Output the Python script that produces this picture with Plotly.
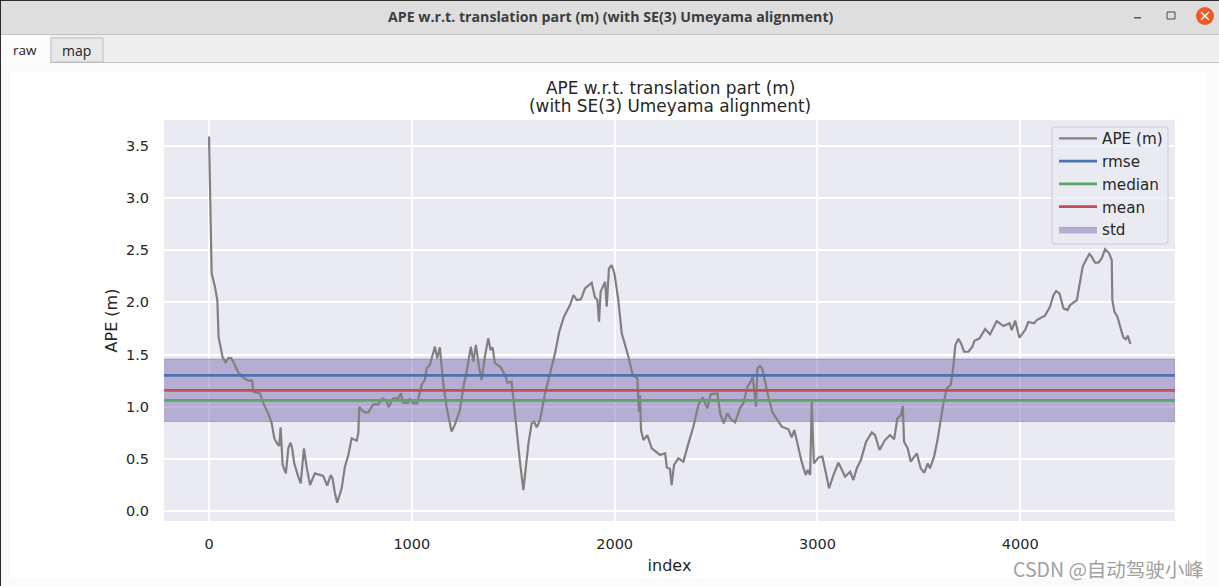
import plotly.graph_objects as go

# ---------------------------------------------------------------------
# Data
# ---------------------------------------------------------------------
ape_index = [
    0, 5, 8, 13, 29, 41, 47, 59, 67, 82, 95, 110, 128, 144, 169, 194, 213, 218, 251, 268,
    292, 309, 322, 333, 346, 353, 363, 379, 391, 402, 410, 420, 440, 452, 468, 481, 498, 522, 563, 583,
    600, 609, 621, 632, 654, 670, 687, 703, 728, 736, 741, 752, 769, 785, 810, 834, 856, 876, 885, 908,
    933, 946, 958, 982, 990, 1007, 1027, 1048, 1064, 1073, 1089, 1114, 1125, 1138, 1155, 1171, 1196, 1212, 1237, 1257,
    1266, 1278, 1291, 1303, 1316, 1331, 1344, 1360, 1377, 1388, 1398, 1410, 1435, 1460, 1471, 1492, 1501, 1517, 1534, 1550,
    1560, 1575, 1591, 1603, 1616, 1632, 1657, 1682, 1706, 1727, 1750, 1780, 1797, 1813, 1834, 1854, 1887, 1903, 1915, 1923,
    1931, 1953, 1961, 1972, 1985, 1999, 2018, 2035, 2068, 2089, 2112, 2120, 2125, 2130, 2142, 2161, 2183, 2224, 2249, 2257,
    2273, 2281, 2293, 2314, 2339, 2364, 2388, 2413, 2434, 2457, 2474, 2507, 2520, 2538, 2556, 2577, 2594, 2618, 2635, 2655,
    2671, 2681, 2689, 2697, 2704, 2717, 2727, 2742, 2758, 2778, 2799, 2824, 2857, 2873, 2886, 2906, 2922, 2942, 2952, 2964,
    2972, 2978, 2983, 3005, 3024, 3042, 3057, 3079, 3103, 3117, 3136, 3161, 3177, 3194, 3214, 3240, 3268, 3284, 3306, 3333,
    3358, 3378, 3394, 3412, 3421, 3427, 3445, 3460, 3490, 3509, 3527, 3544, 3555, 3575, 3592, 3605, 3621, 3638, 3657, 3670,
    3680, 3695, 3708, 3723, 3744, 3764, 3774, 3799, 3827, 3851, 3884, 3917, 3947, 3958, 3975, 3996, 4024, 4040, 4068, 4081,
    4122, 4147, 4164, 4177, 4193, 4213, 4233, 4246, 4279, 4295, 4308, 4324, 4341, 4352, 4369, 4385, 4402, 4418, 4438, 4451,
    4454, 4464, 4479, 4495, 4508, 4520, 4530, 4543,
]
ape_values = [
    3.59, 3.11, 2.534, 2.279, 2.151, 2.023, 1.672, 1.528, 1.473, 1.426, 1.467, 1.467, 1.40, 1.33, 1.278, 1.25, 1.25, 1.144, 1.128, 1.032,
    0.936, 0.84, 0.697, 0.655, 0.623, 0.802, 0.441, 0.361, 0.601, 0.655, 0.601, 0.457, 0.329, 0.265, 0.601, 0.425, 0.249, 0.361, 0.336, 0.243,
    0.345, 0.313, 0.17, 0.08, 0.217, 0.425, 0.537, 0.697, 0.674, 0.745, 1.0, 0.968, 0.946, 0.946, 1.023, 1.023, 1.08, 1.058, 0.994, 1.08,
    1.08, 1.128, 1.039, 1.039, 1.08, 1.032, 1.032, 1.208, 1.256, 1.368, 1.40, 1.576, 1.464, 1.569, 1.224, 1.0, 0.761, 0.825, 0.968, 1.224,
    1.288, 1.448, 1.576, 1.432, 1.592, 1.384, 1.256, 1.48, 1.656, 1.544, 1.569, 1.416, 1.384, 1.304, 1.23, 1.24, 1.064, 0.776, 0.457, 0.201,
    0.361, 0.648, 0.84, 0.856, 0.802, 0.872, 1.128, 1.32, 1.511, 1.719, 1.863, 1.975, 2.071, 2.023, 2.029, 2.135, 2.189, 2.048, 2.023, 1.815,
    2.103, 2.198, 1.959, 2.326, 2.358, 2.278, 2.023, 1.703, 1.479, 1.304, 1.272, 0.952, 1.11, 0.776, 0.68, 0.728, 0.6, 0.537, 0.553, 0.418,
    0.402, 0.249, 0.441, 0.505, 0.473, 0.648, 0.808, 1.016, 1.089, 0.984, 1.121, 1.128, 0.936, 0.84, 0.936, 0.872, 0.85, 0.984, 1.032, 1.192,
    1.24, 1.288, 1.16, 1.0, 1.368, 1.39, 1.368, 1.224, 1.096, 0.946, 0.888, 0.808, 0.783, 0.706, 0.776, 0.616, 0.473, 0.345, 0.393, 0.345,
    1.048, 0.68, 0.457, 0.514, 0.521, 0.361, 0.217, 0.345, 0.463, 0.409, 0.329, 0.377, 0.297, 0.409, 0.489, 0.664, 0.754, 0.728, 0.585, 0.68,
    0.728, 0.687, 0.888, 0.92, 1.006, 0.664, 0.6, 0.473, 0.553, 0.409, 0.367, 0.457, 0.409, 0.521, 0.68, 0.84, 1.032, 1.176, 1.208, 1.384,
    1.591, 1.652, 1.607, 1.527, 1.527, 1.575, 1.633, 1.655, 1.745, 1.693, 1.821, 1.773, 1.799, 1.735, 1.825, 1.662, 1.735, 1.812, 1.799, 1.831,
    1.873, 1.959, 2.071, 2.109, 2.087, 1.943, 1.927, 1.975, 2.023, 2.2, 2.343, 2.407, 2.464, 2.439, 2.381, 2.381, 2.423, 2.509, 2.471, 2.407,
    2.023, 1.911, 1.863, 1.752, 1.665, 1.646, 1.681, 1.601,
]
rmse = 1.30
median = 1.06
mean = 1.157
std_low = 0.858
std_high = 1.457

x_range = [-222, 4763]
y_range = [-0.096, 3.749]
x_ticks = [0, 1000, 2000, 3000, 4000]
y_ticks = [0.0, 0.5, 1.0, 1.5, 2.0, 2.5, 3.0, 3.5]

WIDTH, HEIGHT = 1219, 586
LEFT, RIGHT, TOP, BOTTOM = 164, 1175, 120, 521
PLOT_FONT = "DejaVu Sans"
UI_FONT = "Open Sans"


# ---------------------------------------------------------------------
# Helper functions: window parts are placed in page pixels
# ---------------------------------------------------------------------
def page_x(x):
    return (x - LEFT) / (RIGHT - LEFT)


def page_y(y):
    return (BOTTOM - y) / (BOTTOM - TOP)


def box(x0, y0, x1, y1, fill, line=None, kind="rect"):
    return dict(
        type=kind, xref="paper", yref="paper", layer="below",
        x0=page_x(x0), x1=page_x(x1), y0=page_y(y1), y1=page_y(y0),
        fillcolor=fill, line=dict(color=line or fill, width=1 if line else 0),
    )


def stroke(x0, y0, x1, y1, color, width=1.5):
    return dict(
        type="line", xref="paper", yref="paper", layer="above",
        x0=page_x(x0), x1=page_x(x1), y0=page_y(y0), y1=page_y(y1),
        line=dict(color=color, width=width),
    )


def rounded_frame(x0, y0, x1, y1, r, fill, line):
    # matplotlib's legend frame has round corners, plotly's own has not
    left, right = page_x(x0), page_x(x1)
    top, bottom = page_y(y0), page_y(y1)
    dx, dy = r / (RIGHT - LEFT), r / (BOTTOM - TOP)
    path = (
        f"M {left + dx} {top} L {right - dx} {top} Q {right} {top} {right} {top - dy} "
        f"L {right} {bottom + dy} Q {right} {bottom} {right - dx} {bottom} "
        f"L {left + dx} {bottom} Q {left} {bottom} {left} {bottom + dy} "
        f"L {left} {top - dy} Q {left} {top} {left + dx} {top} Z"
    )
    return dict(
        type="path", xref="paper", yref="paper", layer="above", path=path,
        fillcolor=fill, line=dict(color=line, width=1),
    )


def label(x, y, text, size, color="#262626", family=PLOT_FONT, bold=False):
    return dict(
        xref="paper", yref="paper", x=page_x(x), y=page_y(y), text=f"<b>{text}</b>" if bold else text,
        showarrow=False, xanchor="center", yanchor="middle",
        font=dict(family=family, size=size, color=color),
    )


# ---------------------------------------------------------------------
# Traces
# ---------------------------------------------------------------------
fig = go.Figure()

fig.add_trace(go.Scatter(
    x=[x_range[0], x_range[1], x_range[1], x_range[0]],
    y=[std_low, std_low, std_high, std_high],
    mode="lines", fill="toself", name="std", legendrank=5,
    fillcolor="rgba(129,114,178,0.5)", line=dict(color="rgba(129,114,178,0.5)", width=1),
))
fig.add_trace(go.Scatter(
    x=ape_index, y=ape_values, mode="lines", name="APE (m)", legendrank=1,
    line=dict(color="#808080", width=2.2),
))
for name, value, color, rank in [
    ("rmse", rmse, "#4c72b0", 2),
    ("median", median, "#55a868", 3),
    ("mean", mean, "#c44e52", 4),
]:
    fig.add_trace(go.Scatter(
        x=x_range, y=[value, value], mode="lines", name=name, legendrank=rank,
        line=dict(color=color, width=2.8),
    ))

# ---------------------------------------------------------------------
# Window frame around the chart, the plot area itself stays uncovered
# ---------------------------------------------------------------------
shapes = [
    box(11, 72, 1207, TOP, "#ffffff"),
    box(11, BOTTOM, 1207, 578, "#ffffff"),
    box(11, TOP, LEFT, BOTTOM, "#ffffff"),
    box(RIGHT, TOP, 1207, BOTTOM, "#ffffff"),
    box(0, 0, WIDTH, 34, "#dedede"),
    box(0, 34, WIDTH, 35, "#c4c4c4"),
    box(0, 35, WIDTH, 62, "#eeeeee"),
    box(0, 62, WIDTH, 63, "#c4c4c4"),
    box(1, 35, 50, 63, "#fcfcfc"),
    box(51, 38, 103, 62, "#e8e8e8", "#bcbcbc"),
    box(0, 0, WIDTH, 1, "#2c2c2c"),
    box(0, 0, 1, HEIGHT, "#2c2c2c"),
    box(1134, 17, 1141, 18.5, "#5c5c5c"),
    box(1167, 12, 1175, 19, "#dedede", "#4a4a4a"),
    box(1196, 7, 1214, 25, "#ef5a24", kind="circle"),
    stroke(1201, 12, 1209, 20, "#ffffff"),
    stroke(1209, 12, 1201, 20, "#ffffff"),
    rounded_frame(1052, 127, 1168, 244, 3, "rgba(234,234,242,0.8)", "#cccccc"),
]

annotations = [
    label(611, 17, "APE w.r.t. translation part (m) (with SE(3) Umeyama alignment)", 14.2, "#3d3d3d", UI_FONT, True),
    label(25, 50, "raw", 13.5, "#222222", UI_FONT),
    label(76, 51, "map", 14, "#222222", UI_FONT),
    label(670, 88, "APE w.r.t. translation part (m)", 16.9),
    label(670, 106, "(with SE(3) Umeyama alignment)", 16.9),
    label(1108, 568, "CSDN @自动驾驶小峰", 19.5, "#a0a0a0", "Noto Sans CJK SC"),
]

fig.update_layout(
    width=WIDTH,
    height=HEIGHT,
    autosize=False,
    margin=dict(l=LEFT, r=WIDTH - RIGHT, t=TOP, b=HEIGHT - BOTTOM, pad=0),
    paper_bgcolor="#fafafa",
    plot_bgcolor="#eaeaf2",
    font=dict(family=PLOT_FONT, size=14.5, color="#262626"),
    shapes=shapes,
    annotations=annotations,
    showlegend=True,
    legend=dict(
        x=page_x(1168), y=page_y(122), xanchor="right", yanchor="top",
        bgcolor="rgba(0,0,0,0)", borderwidth=0,
        font=dict(family=PLOT_FONT, size=15.2, color="#262626"),
        itemwidth=38, traceorder="normal",
    ),
    xaxis=dict(
        range=x_range, tickvals=x_ticks, ticks="outside", ticklen=10, tickcolor="rgba(0,0,0,0)",
        showline=False, zeroline=False, gridcolor="#ffffff", gridwidth=1.8,
        title=dict(text="index", standoff=8, font=dict(size=16)),
    ),
    yaxis=dict(
        range=y_range, tickvals=y_ticks, tickformat=".1f", ticks="outside", ticklen=11, tickcolor="rgba(0,0,0,0)",
        showline=False, zeroline=False, gridcolor="#ffffff", gridwidth=1.8,
        title=dict(text="APE (m)", standoff=4, font=dict(size=16)),
    ),
)

fig.write_html(
    "out.html",
    config={"displayModeBar": False},
    post_script="document.body.style.margin='0';document.body.style.overflow='hidden';",
)
